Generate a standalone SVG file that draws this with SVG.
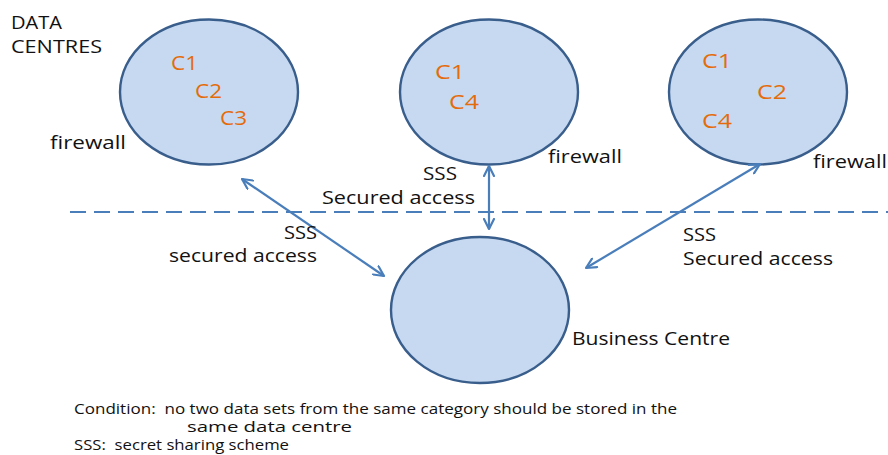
<svg xmlns="http://www.w3.org/2000/svg" width="888" height="455" viewBox="0 0 888 455">
<style>
  .node { fill: #C6D9F1; stroke: #395E8C; stroke-width: 2.4; }
  .t { font-family: "Open Sans", "Liberation Sans", sans-serif; font-size: 18px; fill: #111; white-space: pre; }
  .c { font-family: "Open Sans", "Liberation Sans", sans-serif; font-size: 20px; fill: #E46C0A; }
  .s { font-family: "Open Sans", "Liberation Sans", sans-serif; font-size: 14.5px; fill: #111; white-space: pre; }
  .conn { stroke: #4A7EBB; stroke-width: 2.2; fill: none; }
  .dash { stroke: #4A7EBB; stroke-width: 2.2; stroke-dasharray: 16 8; fill: none; }
</style>
<defs>
  <marker id="ah" viewBox="0 0 12 12" refX="11" refY="6" markerWidth="12" markerHeight="12" markerUnits="userSpaceOnUse" orient="auto-start-reverse">
    <path d="M1,1 L11,6 L1,11" fill="none" stroke="#4A7EBB" stroke-width="2.2" stroke-linecap="round" stroke-linejoin="round"/>
  </marker>
</defs>
<rect width="888" height="455" fill="#fff"/>

<g id="title">
  <text class="t" x="11" y="29" textLength="51" lengthAdjust="spacingAndGlyphs">DATA</text>
  <text class="t" x="11" y="53" textLength="91" lengthAdjust="spacingAndGlyphs">CENTRES</text>
</g>

<g id="separator">
  <line class="dash" x1="70" y1="212" x2="888" y2="212"/>
</g>

<g id="dc1">
  <ellipse class="node" cx="209" cy="92" rx="89" ry="72.5"/>
  <text class="c" x="171" y="70" textLength="27" lengthAdjust="spacingAndGlyphs">C1</text>
  <text class="c" x="195" y="98" textLength="27" lengthAdjust="spacingAndGlyphs">C2</text>
  <text class="c" x="220" y="125" textLength="27" lengthAdjust="spacingAndGlyphs">C3</text>
  <text class="t" x="50" y="149" textLength="76" lengthAdjust="spacingAndGlyphs">firewall</text>
</g>

<g id="dc2">
  <ellipse class="node" cx="489" cy="92" rx="89" ry="72.5"/>
  <text class="c" x="435" y="79" textLength="30" lengthAdjust="spacingAndGlyphs">C1</text>
  <text class="c" x="449" y="109" textLength="30" lengthAdjust="spacingAndGlyphs">C4</text>
  <text class="t" x="548" y="163" textLength="74" lengthAdjust="spacingAndGlyphs">firewall</text>
</g>

<g id="dc3">
  <ellipse class="node" cx="758" cy="92" rx="89" ry="72.5"/>
  <text class="c" x="702" y="68" textLength="30" lengthAdjust="spacingAndGlyphs">C1</text>
  <text class="c" x="757" y="99" textLength="30" lengthAdjust="spacingAndGlyphs">C2</text>
  <text class="c" x="702" y="128" textLength="30" lengthAdjust="spacingAndGlyphs">C4</text>
  <text class="t" x="813" y="168" textLength="74" lengthAdjust="spacingAndGlyphs">firewall</text>
</g>

<g id="bc">
  <ellipse class="node" cx="480" cy="310" rx="89" ry="73"/>
  <text class="t" x="572" y="345" textLength="158" lengthAdjust="spacingAndGlyphs">Business Centre</text>
</g>

<g id="connectors">
  <line class="conn" x1="242" y1="179" x2="384" y2="276" marker-start="url(#ah)" marker-end="url(#ah)"/>
  <line class="conn" x1="489" y1="166" x2="489" y2="229" marker-start="url(#ah)" marker-end="url(#ah)"/>
  <line class="conn" x1="760" y1="164" x2="586" y2="268" marker-start="url(#ah)" marker-end="url(#ah)"/>
</g>

<g id="connector-labels">
  <text class="t" x="284" y="239" textLength="33" lengthAdjust="spacingAndGlyphs">SSS</text>
  <text class="t" x="169" y="262" textLength="148" lengthAdjust="spacingAndGlyphs">secured access</text>
  <text class="t" x="423" y="180" textLength="34" lengthAdjust="spacingAndGlyphs">SSS</text>
  <text class="t" x="322" y="204" textLength="153" lengthAdjust="spacingAndGlyphs">Secured access</text>
  <text class="t" x="683" y="241" textLength="33" lengthAdjust="spacingAndGlyphs">SSS</text>
  <text class="t" x="683" y="265" textLength="150" lengthAdjust="spacingAndGlyphs">Secured access</text>
</g>

<g id="notes">
  <text class="s" x="74" y="414" textLength="603" lengthAdjust="spacingAndGlyphs">Condition:  no two data sets from the same category should be stored in the</text>
  <text class="s" x="187" y="432" textLength="165" lengthAdjust="spacingAndGlyphs">same data centre</text>
  <text class="s" x="74" y="450" textLength="215" lengthAdjust="spacingAndGlyphs">SSS:  secret sharing scheme</text>
</g>
</svg>
